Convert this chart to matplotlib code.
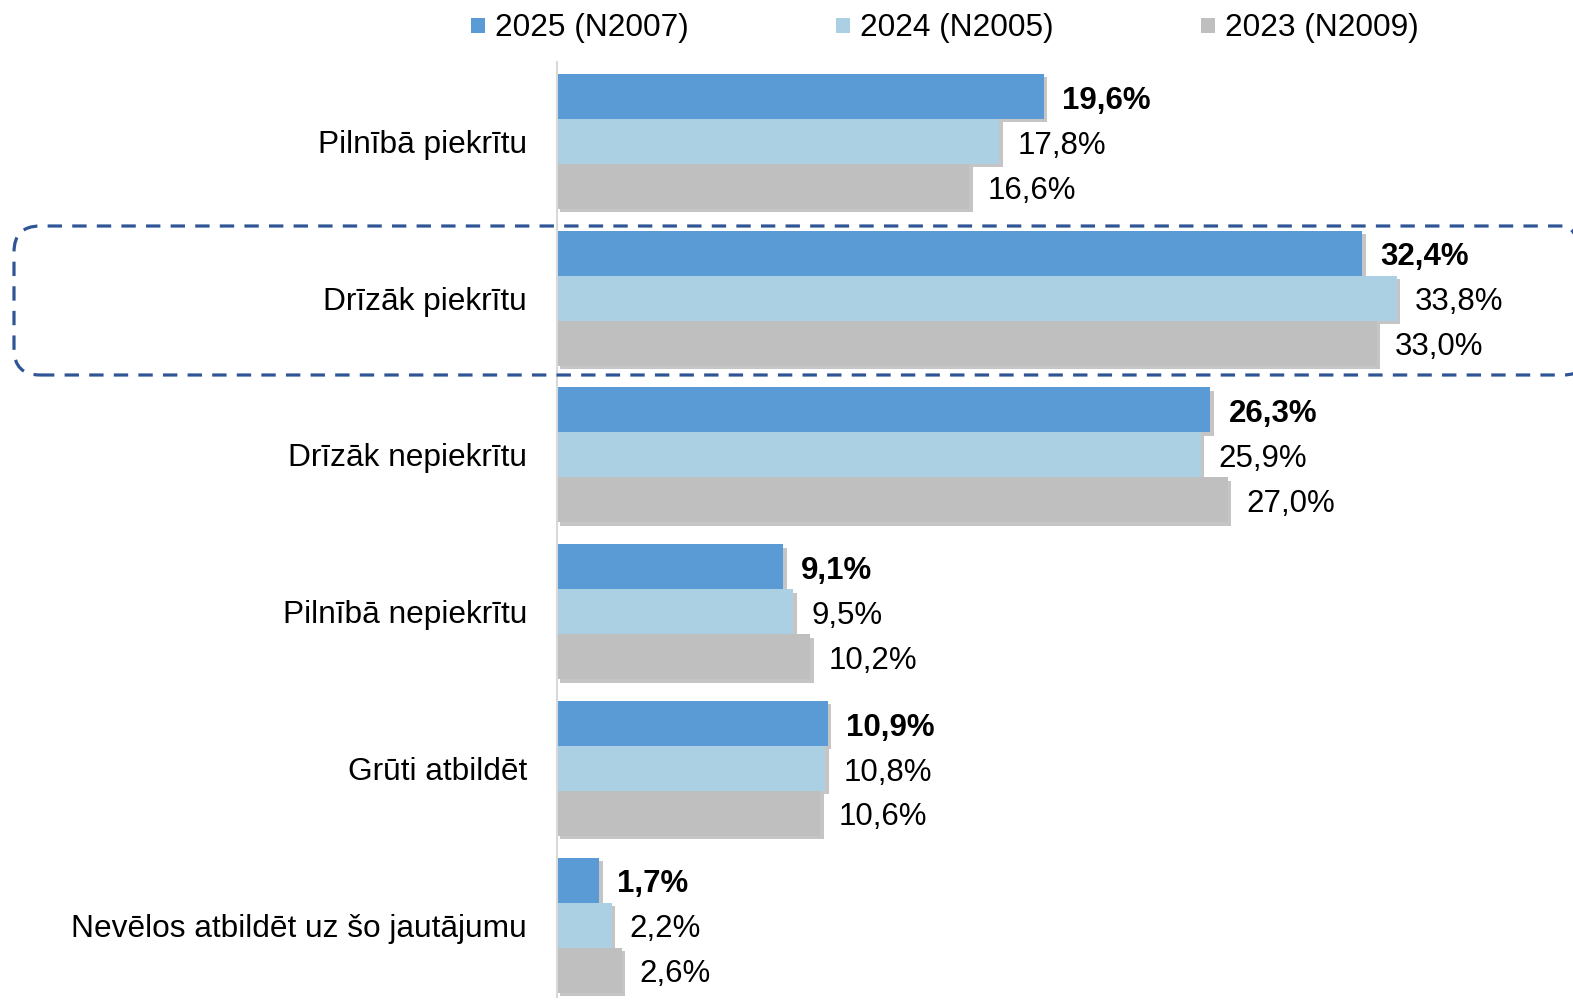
import matplotlib
matplotlib.use("Agg")
import matplotlib.pyplot as plt
import matplotlib.patheffects as pe
from matplotlib.patches import FancyBboxPatch, Rectangle
from matplotlib.transforms import IdentityTransform
import numpy as np

plt.rcParams['font.family'] = ['Liberation Sans', 'DejaVu Sans']

categories = ["Pilnībā piekrītu", "Drīzāk piekrītu", "Drīzāk nepiekrītu",
              "Pilnībā nepiekrītu", "Grūti atbildēt",
              "Nevēlos atbildēt uz šo jautājumu"]
series_names = ["2025 (N2007)", "2024 (N2005)", "2023 (N2009)"]
v2025 = [19.6, 32.4, 26.3, 9.1, 10.9, 1.7]
v2024 = [17.8, 33.8, 25.9, 9.5, 10.8, 2.2]
v2023 = [16.6, 33.0, 27.0, 10.2, 10.6, 2.6]
colors = ["#5B9BD5", "#ABCFE3", "#BFBFBF"]
highlight = "Drīzāk piekrītu"

W, H = 1573, 1000
fig = plt.figure(figsize=(W / 100, H / 100), dpi=100)
ax = fig.add_axes([557 / W, 3 / H, (W - 557) / W, (997 - 62) / H])

y = np.arange(len(categories))
bh = 0.287
shadow = [pe.SimplePatchShadow(offset=(2.5, -2.5), shadow_rgbFace="#7f7f7f", alpha=0.45), pe.Normal()]

for k, (vals, col) in enumerate(zip([v2025, v2024, v2023], colors)):
    bars = ax.barh(y + (k - 1) * bh, vals, height=bh, color=col, zorder=2)
    for b, v in zip(bars, vals):
        b.set_path_effects(shadow)
        ax.annotate(f"{v:.1f}%".replace(".", ","),
                    xy=(v, b.get_y() + bh / 2), xytext=(13, -3),
                    textcoords="offset points", va="center", ha="left",
                    fontsize=22.5, fontweight="bold" if k == 0 else "normal",
                    color="black")

ax.set_xlim(0, 40.89)
ax.set_ylim(5.459, -0.507)
ax.set_yticks(y)
ax.set_yticklabels(categories, fontsize=22.8)
ax.tick_params(axis="y", length=0, pad=21.5)
ax.set_xticks([])
for s in ["top", "right", "bottom"]:
    ax.spines[s].set_visible(False)
ax.spines["left"].set_color("#D9D9D9")
ax.spines["left"].set_linewidth(1.5)

# dashed rounded frame around the highlighted category
frame = FancyBboxPatch((14, H - 375), 1575, 149,
                       boxstyle="round,pad=0,rounding_size=26",
                       transform=IdentityTransform(), fill=False,
                       edgecolor="#2F5597", linewidth=2.3,
                       linestyle=(0, (4.5, 3.2)), zorder=10)
fig.patches.append(frame)

# legend row across the top
legend_x = [471, 836, 1201]
for name, col, lx in zip(series_names, colors, legend_x):
    fig.patches.append(Rectangle((lx, H - 33), 14, 15, transform=IdentityTransform(),
                                 facecolor=col, edgecolor="none"))
    fig.text((lx + 24) / W, 1 - 28 / H, name, fontsize=22.8, va="center", ha="left")

fig.savefig("out.png", dpi=100)
